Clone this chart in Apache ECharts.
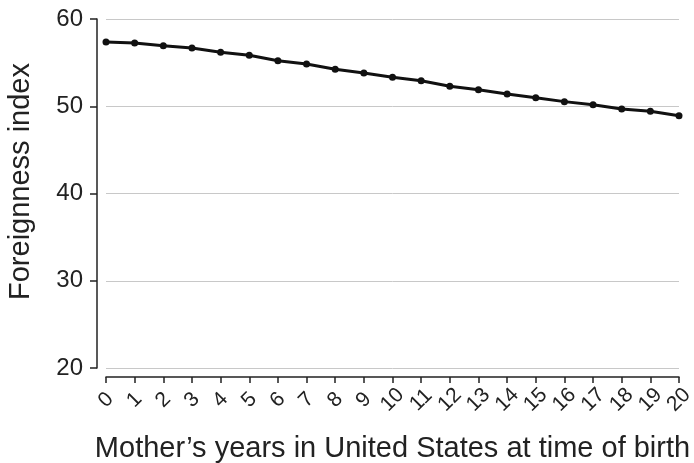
<!DOCTYPE html>
<html><head><meta charset="utf-8">
<script src="https://cdn.jsdelivr.net/npm/echarts@6/dist/echarts.min.js"></script>
<style>html,body{margin:0;padding:0;background:#fff}#c{width:694px;height:463px}</style>
</head><body><div id="c"></div>
<script>
const years = ['0','1','2','3','4','5','6','7','8','9','10','11','12','13','14','15','16','17','18','19','20'];
const foreignness = [57.36,57.25,56.94,56.68,56.18,55.84,55.22,54.84,54.23,53.81,53.32,52.93,52.29,51.9,51.4,50.98,50.53,50.18,49.68,49.42,48.92];
const yTicks = [20,30,40,50,60];

const chart = echarts.init(document.getElementById('c'));
chart.setOption({
  animation:false,
  backgroundColor:'#fff',
  grid:{left:106,right:15,top:19,bottom:95,containLabel:false,outerBoundsMode:'none'},
  xAxis:{
    type:'category', data:years, boundaryGap:false, offset:9,
    name:'Mother\u2019s years in United States at time of birth',
    nameLocation:'middle', nameGap:57, nameMoveOverlap:false,
    nameTextStyle:{fontFamily:'Liberation Sans',fontSize:29,color:'#222'},
    axisLine:{lineStyle:{color:'#222',width:1.5}},
    axisTick:{alignWithLabel:true,length:6,lineStyle:{color:'#222',width:1.5}},
    axisLabel:{rotate:45,align:'center',verticalAlign:'middle',fontFamily:'Liberation Sans',fontSize:21,color:'#222',margin:23,interval:0,hideOverlap:false},
    splitLine:{show:false}
  },
  yAxis:{
    type:'value', min:yTicks[0], max:yTicks[yTicks.length-1], interval:10, offset:9,
    name:'Foreignness index', nameLocation:'middle', nameGap:62, nameMoveOverlap:false,
    nameTextStyle:{fontFamily:'Liberation Sans',fontSize:29,color:'#222',padding:[0,0,0,24]},
    axisLine:{show:true,lineStyle:{color:'#222',width:1.5}},
    axisTick:{show:true,length:7,lineStyle:{color:'#222',width:1.5}},
    axisLabel:{fontFamily:'Liberation Sans',fontSize:24,color:'#222',margin:14},
    splitLine:{show:true,lineStyle:{color:'#c8c8c8',width:1}}
  },
  series:[{
    type:'line', data:foreignness,
    symbol:'circle', symbolSize:7,
    lineStyle:{color:'#111',width:3},
    itemStyle:{color:'#111'}
  }]
});
</script></body></html>
